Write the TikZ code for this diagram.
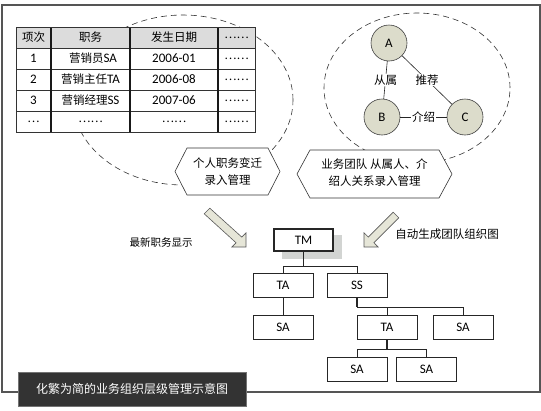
\documentclass[tikz,border=0pt]{standalone}
\usepackage{fontspec}
\setmainfont{Carlito}
\newfontfamily\cjk{Noto Sans CJK SC}
\newcommand\myzh[1]{{\cjk\fontsize{11.5}{14}\selectfont #1}}
\definecolor{olivefill}{HTML}{DCDCCB}
\definecolor{arrowfill}{HTML}{E6E6D8}
\definecolor{headfill}{HTML}{DCDCDC}
\definecolor{titlefill}{HTML}{333333}
\definecolor{framec}{HTML}{555555}
\definecolor{shadowc}{HTML}{D2D4D2}
\begin{document}
\begin{tikzpicture}[x=1pt,y=-1pt, font=\fontsize{13}{15}\selectfont,
  box/.style={draw=black!85, line width=0.7pt, minimum width=60pt, minimum height=24pt, inner sep=0pt, fill=white},
  circ/.style={circle, draw=black!75, fill=olivefill, minimum size=36pt, inner sep=0pt, line width=0.6pt},
  conn/.style={draw=black!85, line width=0.6pt},
  dashell/.style={draw=black!80, dash pattern=on 6pt off 4pt, line width=0.6pt},
  hexa/.style={draw=black!80, fill=white, line width=0.6pt},
  blockarrow/.style={draw=black!65, fill=arrowfill, line width=0.6pt},
  tline/.style={draw=black!80, line width=0.8pt},
  vline/.style={draw=black!90, line width=1.1pt},
  lbl/.style={fill=white, inner sep=1pt}
]
\useasboundingbox (0,0) rectangle (541,410);
\fill[white] (0,0) rectangle (541,410);
\draw[framec, line width=1.2pt] (2,5) rectangle (540,392);

% dashed ellipses
\draw[dashell] (183,100) ellipse [x radius=110pt, y radius=85pt];
\draw[dashell] (417,88) ellipse [x radius=93pt, y radius=75pt];

% table
\fill[white] (16,27) rectangle (255,132);
\fill[headfill] (16,27) rectangle (255,48);
\foreach \y in {48,69,90,111} \draw[tline] (16,\y) -- (255,\y);
\foreach \x in {51,130,218} \draw[vline] (\x,27) -- (\x,132);
\draw[tline] (16,27) rectangle (255,132);

\node (h1) at (33.5,37.5) {\myzh{项次}};
\node (h2) at (90.5,37.5) {\myzh{职务}};
\node (h3) at (174,37.5) {\myzh{发生日期}};
\node (h4) at (236.5,37.5) {\myzh{……}};
\node (r11) at (33.5,58.5) {1};
\node (r12) at (93,58.5) {\myzh{营销员}SA};
\node (r13) at (174,58.5) {2006-01};
\node (r14) at (236.5,58.5) {\myzh{……}};
\node (r21) at (33.5,79.5) {2};
\node (r22) at (90.5,79.5) {\myzh{营销主任}TA};
\node (r23) at (174,79.5) {2006-08};
\node (r24) at (236.5,79.5) {\myzh{……}};
\node (r31) at (33.5,100.5) {3};
\node (r32) at (90.5,100.5) {\myzh{营销经理}SS};
\node (r33) at (174,100.5) {2007-06};
\node (r34) at (236.5,100.5) {\myzh{……}};
\node (r41) at (33.5,121.5) {\myzh{…}};
\node (r42) at (90.5,121.5) {\myzh{……}};
\node (r43) at (174,121.5) {\myzh{……}};
\node (r44) at (236.5,121.5) {\myzh{……}};

% hexagons
\draw[hexa] (175,171.5) -- (187,148) -- (268,148) -- (280,171.5) -- (268,195) -- (187,195) -- cycle;
\node[align=center, font=\cjk\fontsize{11.5}{17}\selectfont] (hx1) at (227.5,171.5) {个人职务变迁\\录入管理};
\draw[hexa] (297,174) -- (310,150) -- (439,150) -- (452,174) -- (439,198) -- (310,198) -- cycle;
\node[align=center, font=\cjk\fontsize{11.5}{17}\selectfont] (hx2) at (374.5,173) {业务团队 从属人、介\\绍人关系录入管理};

% relation circles
\node[circ] (A) at (389,43) {A};
\node[circ] (B) at (382,117) {B};
\node[circ] (C) at (465,117) {C};
\draw[conn] (A) -- node[lbl] (lab) {\myzh{从属}} (B);
\draw[conn] (A) -- node[lbl] (lac) {\myzh{推荐}} (C);
\draw[conn] (B) -- node[lbl] (lbc) {\myzh{介绍}} (C);

% block arrows
\draw[blockarrow] (209.8,208.2) -- (241.8,237.1) -- (246,232.8) -- (246,247) -- (231.8,247) -- (236.1,242.8) -- (204.2,213.8) -- cycle;
\draw[blockarrow] (398.8,217.8) -- (373.9,242.7) -- (378.1,247) -- (364,247) -- (364,232.8) -- (368.3,237.1) -- (393.2,212.2) -- cycle;
\node[font=\cjk\fontsize{10.5}{13}\selectfont] (lbl1) at (161,242) {最新职务显示};
\node[font=\cjk\fontsize{11.5}{14}\selectfont] (lbl2) at (447,234) {自动生成团队组织图};

% org chart
\fill[shadowc] (282,235) rectangle (342,259);
\node[box, line width=1.6pt, minimum width=59pt, minimum height=22pt] (TM) at (303.5,240) {TM};
\node[box] (TA1) at (283,285) {TA};
\node[box] (SS) at (357,285) {SS};
\node[box] (SA1) at (283,327) {SA};
\node[box] (TA2) at (387,327) {TA};
\node[box] (SAR) at (463,327) {SA};
\node[box] (SA3) at (357,369.5) {SA};
\node[box] (SA4) at (426.5,369.5) {SA};

\draw[conn, line width=1.2pt] (TM.south) -- ++(0,14) coordinate (j1);
\draw[conn] (j1) -| (TA1.north);
\draw[conn] (j1) -| (SS.north);
\draw[conn] (TA1.south) -- (SA1.north);
\draw[conn, line width=1.2pt] (SS.south) -- ++(0,10) coordinate (j2);
\draw[conn] (j2) -| (SAR.north);
\draw[conn] (j2) -| (TA2.north);
\draw[conn, line width=1.2pt] (TA2.south) -- ++(0,10) coordinate (j3);
\draw[conn] (j3) -| (SA3.north);
\draw[conn] (j3) -| (SA4.north);

% title
\node[fill=titlefill, draw=black!55, minimum width=228pt, minimum height=34pt, text=white, inner sep=0pt, font=\cjk\fontsize{12}{14}\selectfont] (title) at (132,389) {化繁为简的业务组织层级管理示意图};
\end{tikzpicture}
\end{document}
